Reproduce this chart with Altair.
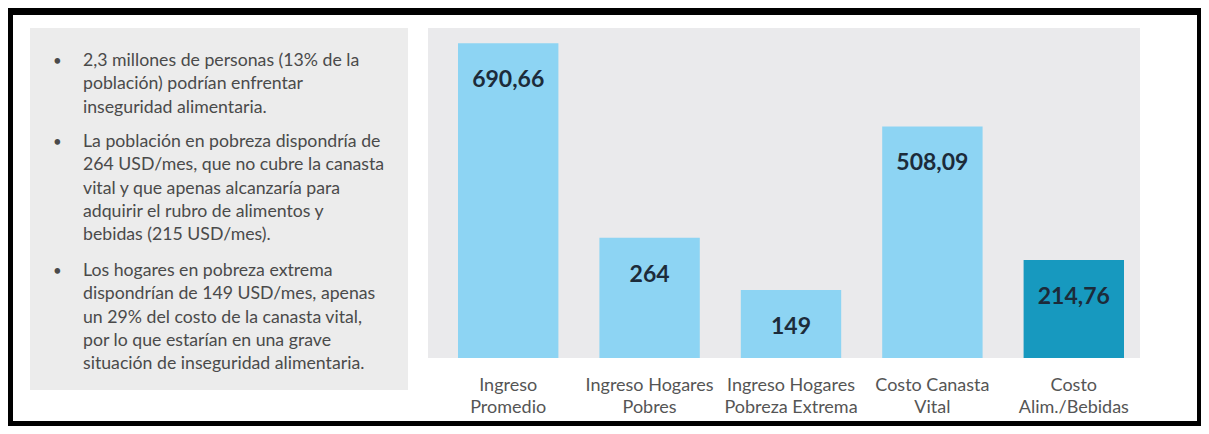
import altair as alt
import pandas as pd

# ---- data ----
categorias = [
    "Ingreso\nPromedio",
    "Ingreso Hogares\nPobres",
    "Ingreso Hogares\nPobreza Extrema",
    "Costo Canasta\nVital",
    "Costo\nAlim./Bebidas",
]
valores = [690.66, 264, 149, 508.09, 214.76]

parrafos = [
    "2,3 millones de personas (13% de la\npoblación) podrían enfrentar\ninseguridad alimentaria.",
    "La población en pobreza dispondría de\n264 USD/mes, que no cubre la canasta\nvital y que apenas alcanzaría para\nadquirir el rubro de alimentos y\nbebidas (215 USD/mes).",
    "Los hogares en pobreza extrema\ndispondrían de 149 USD/mes, apenas\nun 29% del costo de la canasta vital,\npor lo que estarían en una grave\nsituación de inseguridad alimentaria.",
]

df = pd.DataFrame({"categoria": categorias, "valor": valores})
one = pd.DataFrame({"k": [0]})

FONT = "Lato"
LIGHT = "#8dd4f3"
DARK = "#1799bf"

left_panel = alt.Chart(one).mark_rect(color="#ececec").encode(
    x=alt.value(17), x2=alt.value(395), y=alt.value(13), y2=alt.value(375)
)
chart_panel = alt.Chart(one).mark_rect(color="#eaeaec").encode(
    x=alt.value(415), x2=alt.value(1127), y=alt.value(13), y2=alt.value(343)
)

xs = alt.X(
    "categoria:N",
    sort=None,
    scale=alt.Scale(range=[445, 1111], paddingInner=0.29, paddingOuter=0),
    axis=None,
)
ys = alt.Y("valor:Q", scale=alt.Scale(domain=[0, 724], range=[343, 13]), axis=None)

bars = alt.Chart(df).mark_bar().encode(
    x=xs,
    y=ys,
    color=alt.condition(
        alt.datum.categoria == categorias[-1], alt.value(DARK), alt.value(LIGHT)
    ),
)

value_labels = (
    alt.Chart(df)
    .transform_calculate(etiqueta="replace(toString(datum.valor), '.', ',')")
    .mark_text(font=FONT, fontWeight="bold", fontSize=23, color="#1c2b3a",
               baseline="middle", dy=37)
    .encode(x=xs, y=ys, text="etiqueta:N")
)

cat_labels = alt.Chart(df).mark_text(
    font=FONT, fontSize=18, color="#555555", baseline="top",
    lineBreak="\n", lineHeight=22, align="center"
).encode(x=xs, y=alt.value(362), text="categoria:N")

layers = [left_panel, chart_panel, bars, value_labels, cat_labels]

tops = [37, 118, 247]
for p, t in zip(parrafos, tops):
    pdf = pd.DataFrame({"texto": [p], "bala": ["•"]})
    layers.append(
        alt.Chart(pdf).mark_text(
            font=FONT, fontSize=17.7, color="#4a4a4a", baseline="top",
            align="left", lineBreak="\n", lineHeight=23.3
        ).encode(x=alt.value(70), y=alt.value(t), text="texto:N")
    )
    layers.append(
        alt.Chart(pdf).mark_text(
            font=FONT, fontSize=15, color="#4a4a4a", baseline="top", align="left"
        ).encode(x=alt.value(40), y=alt.value(t + 2), text="bala:N")
    )

chart = (
    alt.layer(*layers)
    .properties(
        width=1184,
        height=406,
        autosize=alt.AutoSizeParams(type="none"),
        padding={"left": 5, "top": 7, "right": 4, "bottom": 5},
        background="black",
    )
    .configure_view(fill="white", stroke=None)
)

chart.save("out.html", embed_options={"renderer": "svg", "actions": False})
